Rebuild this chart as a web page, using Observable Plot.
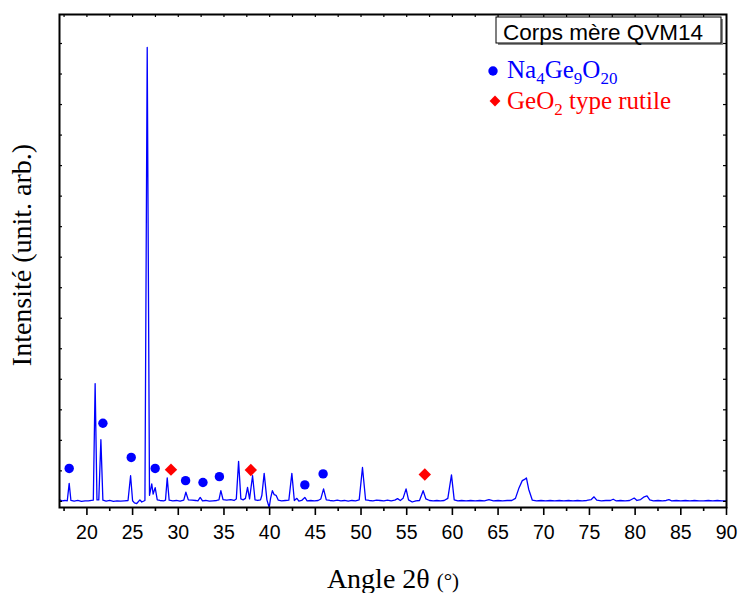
<!DOCTYPE html>
<html>
<head>
<meta charset="utf-8">
<script src="https://cdn.jsdelivr.net/npm/d3@7"></script>
<script src="https://cdn.jsdelivr.net/npm/@observablehq/plot@0.6"></script>
<style>
  html, body { margin: 0; padding: 0; background: white; }
</style>
</head>
<body>
<div id="chart"></div>
<script>
// XRD pattern (angle 2θ in degrees, intensity in arbitrary units)
const angles = [17.0,17.3,17.6,17.85,18.06,18.25,18.6,19.0,19.4,19.8,20.15,20.7,20.9,21.1,21.3,21.53,21.75,22.1,22.5,22.9,23.3,23.7,24.1,24.5,24.78,25.0,25.2,25.45,25.8,26.0,26.35,26.6,26.85,27.1,27.25,27.47,27.7,28.0,28.4,28.6,28.79,29.0,29.4,29.8,30.2,30.6,30.83,31.1,31.5,31.9,32.15,32.4,32.65,33.0,33.4,33.8,34.2,34.45,34.66,34.9,35.3,35.75,36.1,36.35,36.6,36.85,37.1,37.35,37.58,37.8,38.13,38.4,38.7,39.0,39.15,39.4,39.7,39.95,40.1,40.3,40.5,40.7,40.95,41.3,41.7,42.1,42.43,42.7,42.98,43.2,43.5,43.85,44.1,44.5,44.9,45.3,45.6,45.9,46.2,46.6,47.0,47.4,47.8,48.2,48.6,49.0,49.4,49.8,50.16,50.5,50.9,51.3,51.7,52.1,52.5,52.9,53.3,53.7,54.0,54.3,54.6,54.93,55.2,55.6,56.0,56.4,56.8,57.1,57.5,57.9,58.3,58.7,59.1,59.5,59.9,60.2,60.6,61.0,61.5,62.0,62.5,63.0,63.5,64.0,64.5,65.0,65.5,66.0,66.5,66.9,67.3,67.65,67.9,68.1,68.35,68.75,69.2,69.7,70.2,70.7,71.2,71.7,72.2,72.7,73.2,73.7,74.2,74.7,75.2,75.5,75.8,76.3,76.8,77.3,77.6,77.9,78.4,78.9,79.4,79.9,80.2,80.6,81.0,81.3,81.6,82.0,82.5,83.0,83.4,83.7,84.0,84.5,85.0,85.5,86.0,86.5,87.0,87.5,88.0,88.5,89.0,89.5,90.0];
const intensity = [0.05,0.02,0.03,0.02,0.59,0.03,0.01,0.03,0.00,0.02,0.02,0.04,3.86,0.05,0.05,2.02,0.04,0.01,0.03,0.00,0.02,0.01,0.02,0.03,0.84,0.02,-0.05,-0.07,0.05,-0.02,0.03,14.87,0.2,0.57,0.24,0.45,0.05,0.03,0.02,0.04,0.77,0.04,0.02,0.03,0.01,0.04,0.30,0.05,0.04,0.03,0.02,0.13,0.02,0.03,0.01,0.02,0.03,0.05,0.35,0.06,0.04,0.06,0.03,0.08,1.31,0.08,0.05,0.10,0.46,0.08,0.84,0.05,0.03,0.05,0.2,0.92,0.05,-0.2,0.1,0.35,0.22,0.2,0.04,0.02,0.03,0.04,0.92,0.03,0.10,0.01,0.03,0.13,0.02,0.03,0.02,0.03,0.08,0.41,0.05,0.03,0.02,0.04,0.02,0.03,0.01,0.03,0.02,0.05,1.11,0.05,0.03,0.02,0.04,0.03,0.02,0.04,0.02,0.04,0.09,0.03,0.1,0.41,0.05,-0.02,0.02,0.03,0.35,0.08,0.03,0.02,0.03,0.02,0.03,0.1,0.87,0.05,0.02,0.03,0.02,0.03,0.02,0.03,0.02,0.06,0.02,0.03,0.02,0.03,0.03,0.1,0.45,0.68,0.72,0.77,0.4,0.04,0.02,0.03,0.02,0.03,0.02,0.03,0.02,0.03,0.02,0.03,0.02,0.03,0.06,0.15,0.04,0.02,0.03,0.03,0.07,0.02,0.03,0.02,0.03,0.11,0.03,0.06,0.15,0.18,0.05,0.02,0.03,0.02,0.03,0.06,0.02,0.03,0.02,0.03,0.02,0.03,0.02,0.02,0.03,0.02,0.03,0.02,0.02];

// Phase markers
const naAngles  = [18.06, 21.75, 24.85, 27.47, 30.8, 32.7, 34.5, 43.85, 45.85];
const naHeights = [1.08, 2.56, 1.44, 1.08, 0.68, 0.62, 0.81, 0.54, 0.9];
const geoAngles  = [29.2, 37.94, 56.98];
const geoHeights = [1.04, 1.03, 0.88];

// Ticks
const xMajor = [20,25,30,35,40,45,50,55,60,65,70,75,80,85,90];
const xMinor = [17.5,22.5,27.5,32.5,37.5,42.5,47.5,52.5,57.5,62.5,67.5,72.5,77.5,82.5,87.5];
const xTop = [17.5,20,22.5,25,27.5,30,32.5,35,37.5,40,42.5,45,47.5,50,52.5,55,57.5,60,62.5,65,67.5,70,72.5,75,77.5,80,82.5,85,87.5];
const yTicks = [0,1,2,3,4,5,6,7,8,9,10,11,12,13,14,15];

const pattern = angles.map((a, i) => ({angle: a, I: intensity[i]}));
const naPts = naAngles.map((a, i) => ({angle: a, I: naHeights[i]}));
const geoPts = geoAngles.map((a, i) => ({angle: a, I: geoHeights[i]}));

const W = 741, H = 593;
const mL = 59, mR = 15, mT = 14, mB = 86;
const innerH = H - mT - mB, innerW = W - mL - mR;

const chart = Plot.plot({
  width: W, height: H,
  marginLeft: mL, marginRight: mR, marginTop: mT, marginBottom: mB,
  style: {fontFamily: "'Liberation Sans', Arial, sans-serif", fontSize: "19px", color: "black", background: "white"},
  x: {domain: [17, 90]},
  y: {domain: [-0.2, 15.95], axis: null},
  marks: [
    Plot.line(pattern, {x: "angle", y: "I", stroke: "#0000ff", strokeWidth: 1.3}),
    Plot.dot(naPts, {x: "angle", y: "I", r: 4.7, fill: "#0000ff", stroke: null}),
    Plot.dot(geoPts, {x: "angle", y: "I", r: 5.6, symbol: "diamond2", fill: "#ff0000", stroke: null}),
    Plot.axisX(xMajor, {anchor: "bottom", tickSize: 8, tickPadding: 10, strokeWidth: 1.6, label: null, fontSize: 19.5, tickFormat: d => String(d)}),
    Plot.axisX(xMinor, {anchor: "bottom", tickSize: 4, strokeWidth: 1.6, label: null, tickFormat: () => ""}),
    Plot.ruleX(xTop, {x: d => d, insetBottom: innerH - 3, stroke: "black", strokeWidth: 1.2}),
    Plot.ruleY(yTicks, {y: d => d, insetRight: innerW - 3, stroke: "black", strokeWidth: 1.2}),
    Plot.ruleY(yTicks, {y: d => d, insetLeft: innerW - 3, stroke: "black", strokeWidth: 1.2}),
    Plot.frame({stroke: "black", strokeWidth: 2})
  ]
});

document.getElementById("chart").appendChild(chart);

const svg = d3.select(chart);
const serif = "'Liberation Serif', 'Times New Roman', serif";

// Axis titles
const xt = svg.append("text")
  .attr("x", 393).attr("y", 588)
  .attr("text-anchor", "middle")
  .attr("font-family", serif).attr("font-size", 28).attr("fill", "black");
xt.append("tspan").text("Angle 2θ ");
xt.append("tspan").attr("font-size", 21).text("(°)");

svg.append("text")
  .attr("transform", "translate(31,255) rotate(-90)")
  .attr("text-anchor", "middle")
  .attr("font-family", serif).attr("font-size", 28).attr("fill", "black")
  .text("Intensité (unit. arb.)");

// Title box
svg.append("rect")
  .attr("x", 498).attr("y", 19).attr("width", 225).attr("height", 26)
  .attr("fill", "#888");
svg.append("rect")
  .attr("x", 496).attr("y", 17).attr("width", 225).attr("height", 26)
  .attr("fill", "white").attr("stroke", "black").attr("stroke-width", 1);
svg.append("text")
  .attr("x", 503).attr("y", 40)
  .attr("text-anchor", "start")
  .attr("font-family", "'Liberation Sans', Arial, sans-serif").attr("font-size", 22.5).attr("fill", "black")
  .text("Corps mère QVM14");

// Legend
svg.append("circle").attr("cx", 493).attr("cy", 71).attr("r", 4.7).attr("fill", "#0000ff");
const l1 = svg.append("text").attr("x", 507).attr("y", 78)
  .attr("text-anchor", "start")
  .attr("font-family", serif).attr("font-size", 25).attr("fill", "#0000ff");
l1.append("tspan").text("Na");
l1.append("tspan").attr("font-size", 17).attr("dy", 6).text("4");
l1.append("tspan").attr("dy", -6).text("Ge");
l1.append("tspan").attr("font-size", 17).attr("dy", 6).text("9");
l1.append("tspan").attr("dy", -6).text("O");
l1.append("tspan").attr("font-size", 17).attr("dy", 6).text("20");

svg.append("path")
  .attr("d", d3.symbol(d3.symbolDiamond2, 75)())
  .attr("transform", "translate(495,101)")
  .attr("fill", "#ff0000");
const l2 = svg.append("text").attr("x", 507).attr("y", 109)
  .attr("text-anchor", "start")
  .attr("font-family", serif).attr("font-size", 25).attr("fill", "#ff0000");
l2.append("tspan").text("GeO");
l2.append("tspan").attr("font-size", 17).attr("dy", 6).text("2");
l2.append("tspan").attr("dy", -6).text(" type rutile");
</script>
</body>
</html>
